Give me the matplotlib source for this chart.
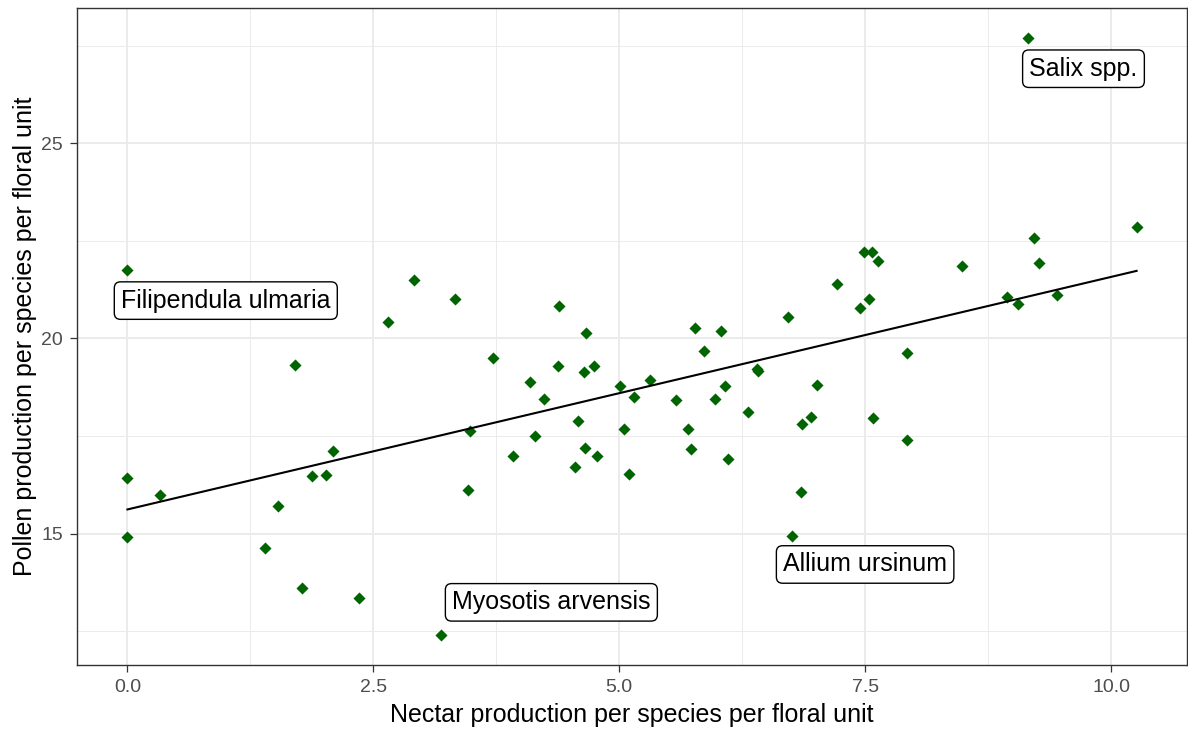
import numpy as np
import matplotlib.pyplot as plt
from matplotlib.ticker import MultipleLocator

# nectar (x) and pollen (y) per species per floral unit
nectar = [0.00, 0.00, 0.00, 0.33, 1.40, 1.53, 1.70, 1.77, 1.88, 2.02,
          2.09, 2.35, 2.65, 2.91, 3.33, 3.19, 3.46, 3.48, 3.72, 3.92,
          4.09, 4.14, 4.24, 4.38, 4.39, 4.55, 4.58, 4.64, 4.65, 4.66,
          4.74, 4.77, 5.01, 5.05, 5.10, 5.15, 5.31, 5.58, 5.70, 5.73,
          5.77, 5.86, 5.97, 6.03, 6.08, 6.11, 6.31, 6.40, 6.41, 6.72,
          6.76, 6.85, 6.86, 6.95, 7.01, 7.21, 7.45, 7.49, 7.54, 7.57,
          7.58, 7.63, 7.93, 7.93, 8.48, 8.94, 9.05, 9.16, 9.22, 9.27,
          9.45, 10.26]
pollen = [21.76, 16.43, 14.92, 16.00, 14.62, 15.71, 19.31, 13.60, 16.48, 16.50,
          17.12, 13.34, 20.43, 21.50, 21.00, 12.40, 16.12, 17.63, 19.49, 16.99,
          18.88, 17.50, 18.44, 19.29, 20.84, 16.71, 17.88, 19.13, 17.19, 20.15,
          19.29, 16.99, 18.78, 17.68, 16.53, 18.49, 18.93, 18.42, 17.68, 17.17,
          20.26, 19.69, 18.44, 20.18, 18.78, 16.91, 18.11, 19.21, 19.16, 20.54,
          14.95, 16.07, 17.81, 18.00, 18.80, 21.40, 20.79, 22.22, 21.02, 22.22,
          17.96, 21.99, 19.62, 17.40, 21.86, 21.05, 20.89, 27.70, 22.58, 21.94,
          21.12, 22.86]

# labelled species and where their labels sit
label_text = ["Filipendula ulmaria", "Myosotis arvensis", "Allium ursinum", "Salix spp."]
label_x = [1.00, 4.31, 7.50, 9.72]
label_y = [20.97, 13.24, 14.21, 26.91]

nectar = np.array(nectar)
pollen = np.array(pollen)

plt.rcParams['font.family'] = ['Liberation Sans', 'DejaVu Sans']

fig = plt.figure(figsize=(11.88, 7.29), dpi=100)
ax = fig.add_axes([0.0648, 0.0878, 0.9344, 0.9012])

# grid like theme_bw
ax.set_axisbelow(True)
ax.xaxis.set_major_locator(MultipleLocator(2.5))
ax.xaxis.set_minor_locator(MultipleLocator(1.25))
ax.yaxis.set_major_locator(MultipleLocator(5))
ax.yaxis.set_minor_locator(MultipleLocator(2.5))
ax.grid(which='major', color='#EBEBEB', linewidth=1.4)
ax.grid(which='minor', color='#EBEBEB', linewidth=0.7)

ax.scatter(nectar, pollen, marker='D', s=38, color='#006400', linewidths=0, zorder=3)

# linear fit
slope, intercept = np.polyfit(nectar, pollen, 1)
xs = np.array([nectar.min(), nectar.max()])
ax.plot(xs, intercept + slope * xs, color='black', linewidth=1.5, zorder=4)

for t, lx, ly in zip(label_text, label_x, label_y):
    ax.text(lx, ly, t, fontsize=18, ha='center', va='center', zorder=5,
            bbox=dict(boxstyle='round,pad=0.27,rounding_size=0.25',
                      facecolor='white', edgecolor='black', linewidth=1.0))

# 5% expansion like ggplot
xr = nectar.max() - nectar.min()
yr = pollen.max() - pollen.min()
ax.set_xlim(nectar.min() - 0.05 * xr, nectar.max() + 0.05 * xr)
ax.set_ylim(pollen.min() - 0.05 * yr, pollen.max() + 0.05 * yr)

ax.xaxis.set_major_formatter(plt.FuncFormatter(lambda v, p: f"{v:.1f}"))
ax.yaxis.set_major_formatter(plt.FuncFormatter(lambda v, p: f"{v:.0f}"))
ax.tick_params(which='major', length=5, color='#333333', width=0.9,
               labelsize=14, labelcolor='#4D4D4D', pad=5)
ax.tick_params(which='minor', length=0)

for sp in ax.spines.values():
    sp.set_color('#333333')
    sp.set_linewidth(1.0)

ax.set_xlabel("Nectar production per species per floral unit", fontsize=18, labelpad=5)
ax.set_ylabel("Pollen production per species per floral unit", fontsize=18, labelpad=3)

fig.savefig("out.png", dpi=100)
